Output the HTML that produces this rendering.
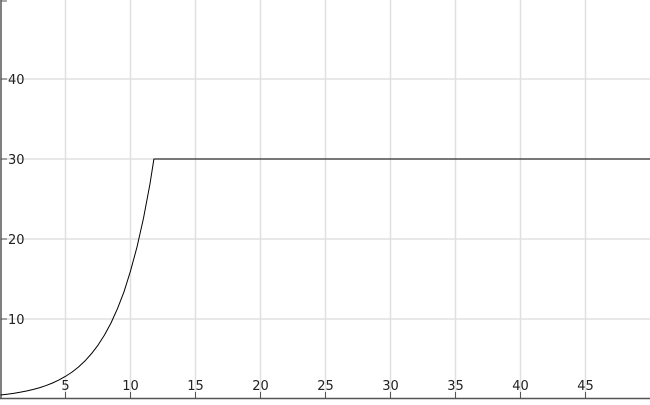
<!DOCTYPE html>
<html><head><meta charset="utf-8"><style>
html,body{margin:0;padding:0;background:#fff;}
svg text{font-family:"DejaVu Sans","Liberation Sans",sans-serif;font-size:13px;fill:#222;}
</style></head><body>
<svg id="chart" width="650" height="400" xmlns="http://www.w3.org/2000/svg">
<g id="grid"></g>
<g id="axes"></g>
<g id="series"></g>
</svg>
<script>
const xVals=[0,0.5,1,1.5,2,2.5,3,3.5,4,4.5,5,5.5,6,6.5,7,7.5,8,8.5,9,9.5,10,10.5,11,11.5,11.8,50];
const yVals=[0.5,0.6,0.71,0.84,1.0,1.19,1.41,1.68,2.0,2.38,2.83,3.36,4.0,4.76,5.67,6.73,8.0,9.5,11.3,13.4,16.0,19.0,22.6,26.9,30,30];
const xTicks=[5,10,15,20,25,30,35,40,45];
const yTicks=[10,20,30,40];
const NS='http://www.w3.org/2000/svg';
const sx=v=>0.5+v*13, sy=v=>399-v*8;
function mk(t,a,p){const e=document.createElementNS(NS,t);for(const k in a)e.setAttribute(k,a[k]);p.appendChild(e);return e;}
const grid=document.getElementById('grid'),axes=document.getElementById('axes'),series=document.getElementById('series');
xTicks.forEach(t=>{
 const l=mk('line',{x1:sx(t),x2:sx(t),y1:0,y2:398,stroke:'#e0e0e0','stroke-width':1.5},grid);
 
 
 const k=mk('line',{x1:sx(t),x2:sx(t),y1:392,y2:398,stroke:'#555'},axes);
 
 
 const tx=mk('text',{x:sx(t),y:390,'text-anchor':'middle'},axes);tx.textContent=t;
 
 
});
yTicks.forEach(t=>{
 const l=mk('line',{x1:0,x2:650,y1:sy(t),y2:sy(t),stroke:'#e0e0e0','stroke-width':1.5},grid);
 
 
 const k=mk('line',{x1:1,x2:7,y1:sy(t),y2:sy(t),stroke:'#555'},axes);
 
 
 const tx=mk('text',{x:8,y:sy(t)+5},axes);tx.textContent=t;
 
 
});
const ya=mk('line',{x1:1,x2:1,y1:0,y2:399,stroke:'#555','stroke-width':1.5},axes);


const xa=mk('line',{x1:0,x2:650,y1:398.5,y2:398.5,stroke:'#555','stroke-width':1.5},axes);


const yt=mk('line',{x1:1,x2:7,y1:1,y2:1,stroke:'#555'},axes);


let d='';
for(let i=0;i<xVals.length;i++){d+=(i?' L':'M')+sx(xVals[i])+','+sy(yVals[i]);}
const path=mk('path',{d:d,fill:'none',stroke:'#000','stroke-width':1,'stroke-linejoin':'round'},series);


</script>
</body></html>
